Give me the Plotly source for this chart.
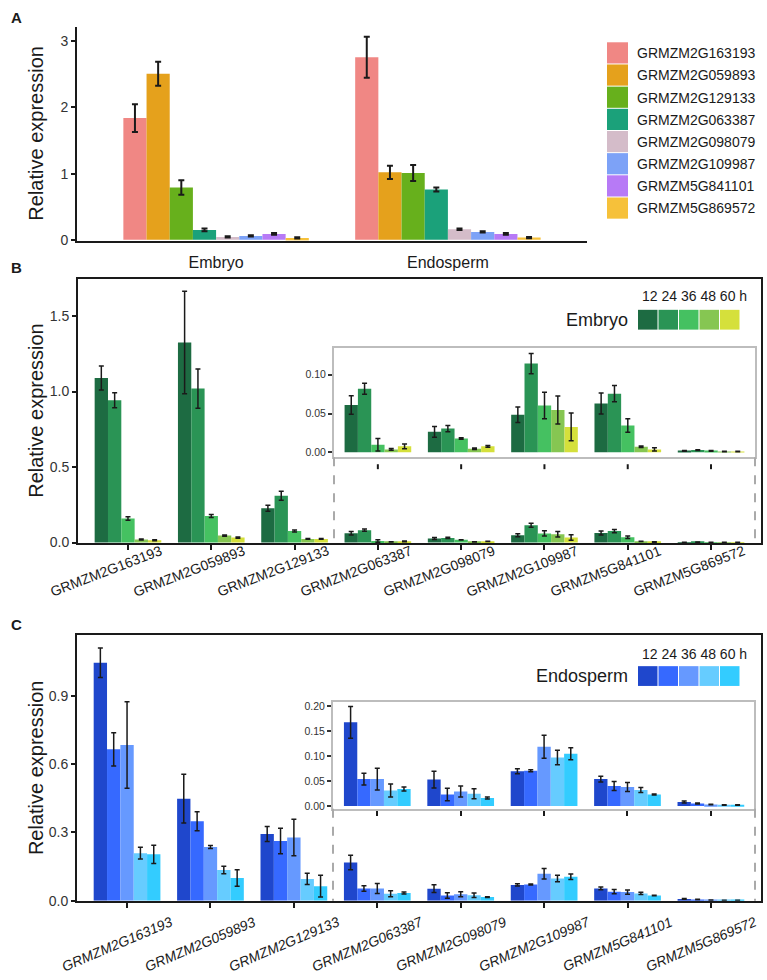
import plotly.graph_objects as go

W, H = 767, 980

# ---------------- data ----------------
genes = ["GRMZM2G163193", "GRMZM2G059893", "GRMZM2G129133", "GRMZM2G063387",
         "GRMZM2G098079", "GRMZM2G109987", "GRMZM5G841101", "GRMZM5G869572"]
tissues = ["Embryo", "Endosperm"]
gene_colors = ["#F08784", "#E5A11C", "#67B01C", "#1BA17A",
               "#D4BCC9", "#7DA2F7", "#B77AF6", "#F6C13A"]

# Panel A: expression per gene in embryo / endosperm
a_embryo = [1.84, 2.51, 0.79, 0.15, 0.045, 0.06, 0.09, 0.03]
a_embryo_err = [0.21, 0.18, 0.11, 0.02, 0.01, 0.008, 0.012, 0.01]
a_endosperm = [2.76, 1.02, 1.01, 0.76, 0.16, 0.12, 0.09, 0.035]
a_endosperm_err = [0.31, 0.10, 0.12, 0.03, 0.01, 0.01, 0.012, 0.01]

times = ["12", "24", "36", "48", "60"]
time_label = "12 24 36 48 60 h"

# Panel B: embryo time course (rows = 12, 24, 36, 48, 60 h; columns = genes)
emb_mean = [
    [1.09, 1.325, 0.227, 0.061, 0.0264, 0.0485, 0.063, 0.002],
    [0.943, 1.02, 0.31, 0.082, 0.0306, 0.1145, 0.0757, 0.003],
    [0.159, 0.176, 0.076, 0.0098, 0.0179, 0.0604, 0.0345, 0.002],
    [0.02, 0.046, 0.024, 0.0038, 0.0047, 0.0545, 0.0072, 0.001],
    [0.015, 0.033, 0.024, 0.0077, 0.0077, 0.0328, 0.0038, 0.001],
]
emb_err = [
    [0.08, 0.34, 0.02, 0.012, 0.007, 0.01, 0.0136, 0.0005],
    [0.05, 0.13, 0.03, 0.007, 0.004, 0.013, 0.0105, 0.0005],
    [0.012, 0.01, 0.007, 0.008, 0.001, 0.017, 0.0087, 0.0005],
    [0.003, 0.004, 0.002, 0.001, 0.001, 0.018, 0.001, 0.0003],
    [0.003, 0.004, 0.002, 0.003, 0.001, 0.018, 0.002, 0.0003],
]
emb_colors = ["#1D6B42", "#2A9455", "#45C161", "#86C652", "#D5E03B"]

# Panel C: endosperm time course
endo_mean = [
    [1.045, 0.448, 0.293, 0.168, 0.053, 0.0696, 0.054, 0.008],
    [0.665, 0.349, 0.262, 0.054, 0.023, 0.071, 0.040, 0.005],
    [0.684, 0.236, 0.278, 0.054, 0.029, 0.119, 0.038, 0.003],
    [0.209, 0.135, 0.096, 0.031, 0.0245, 0.0975, 0.032, 0.002],
    [0.204, 0.100, 0.064, 0.034, 0.016, 0.105, 0.023, 0.002],
]
endo_err = [
    [0.065, 0.107, 0.033, 0.032, 0.017, 0.005, 0.006, 0.002],
    [0.073, 0.042, 0.056, 0.012, 0.0125, 0.002, 0.009, 0.001],
    [0.19, 0.007, 0.08, 0.022, 0.011, 0.023, 0.009, 0.0005],
    [0.026, 0.017, 0.025, 0.013, 0.01, 0.0145, 0.005, 0.0005],
    [0.04, 0.036, 0.048, 0.004, 0.002, 0.012, 0.001, 0.0005],
]
endo_colors = ["#1F47CC", "#3669FF", "#6699FF", "#66CCFF", "#33CCFF"]

inset_start = 3  # genes shown in the zoomed insets

# ---------------- helpers ----------------
FONT = "Liberation Sans, Arial, sans-serif"
DARK = "#1a1a1a"


def px(p):
    return p / W


def py(p):
    return 1 - p / H


def err(arr, th=1.5, w=2.5):
    return dict(type="data", array=arr, visible=True, color=DARK, thickness=th, width=w)


fig = go.Figure()

# Panel A bars
for i, g in enumerate(genes):
    fig.add_trace(go.Bar(
        x=tissues, y=[a_embryo[i], a_endosperm[i]],
        error_y=err([a_embryo_err[i], a_endosperm_err[i]], th=2, w=3),
        marker=dict(color=gene_colors[i], line=dict(width=0)),
        name=g, showlegend=False, xaxis="x", yaxis="y"))

# Panel B and C bars (main + inset)
for mean, errs, cols, xm, ym, xi, yi in [
        (emb_mean, emb_err, emb_colors, "x2", "y2", "x3", "y3"),
        (endo_mean, endo_err, endo_colors, "x4", "y4", "x5", "y5")]:
    for t in range(len(times)):
        fig.add_trace(go.Bar(
            x=genes, y=mean[t], error_y=err(errs[t]),
            marker=dict(color=cols[t], line=dict(width=0)),
            name=times[t] + " h", showlegend=False, xaxis=xm, yaxis=ym))
        fig.add_trace(go.Bar(
            x=genes[inset_start:], y=mean[t][inset_start:],
            error_y=err(errs[t][inset_start:]),
            marker=dict(color=cols[t], line=dict(width=0)),
            name=times[t] + " h", showlegend=False, xaxis=xi, yaxis=yi))

tickfont = dict(family=FONT, size=14, color="#333333")
insetfont = dict(family=FONT, size=10.5, color="#333333")

main_y = dict(showgrid=False, zeroline=False, showline=True, linecolor=DARK, linewidth=2,
              ticks="outside", ticklen=4, tickwidth=1.5, tickcolor=DARK, tickfont=tickfont)
main_x_box = dict(showgrid=False, zeroline=False, showline=True, linecolor=DARK, linewidth=2,
                  mirror=True, ticks="outside", ticklen=5, tickwidth=1.5, tickcolor=DARK,
                  showticklabels=False, categoryorder="array", categoryarray=genes,
                  range=[-0.6, 7.6])
inset_y = dict(showgrid=False, zeroline=False, showline=True, linecolor="#BDBDBD", linewidth=2,
               mirror=True, ticks="outside", ticklen=4, tickwidth=1.5, tickcolor="#333333",
               tickfont=insetfont)
inset_x = dict(showgrid=False, zeroline=False, showline=True, linecolor="#BDBDBD", linewidth=2,
               mirror=True, showticklabels=False, categoryorder="array", categoryarray=genes)

fig.update_layout(
    width=W, height=H, margin=dict(l=0, r=0, t=0, b=0),
    paper_bgcolor="white", plot_bgcolor="white",
    barmode="group", bargap=0.2, bargroupgap=0,
    font=dict(family=FONT, color=DARK),
    showlegend=False,
    # Panel A
    xaxis=dict(domain=[px(77), px(587)], anchor="y", range=[-0.6, 1.6], showgrid=False,
               zeroline=False, showline=True, linecolor=DARK, linewidth=2, ticks="",
               ticklabelstandoff=6, tickfont=dict(family=FONT, size=16, color=DARK)),
    yaxis=dict(domain=[py(241), py(25)], anchor="x", range=[-0.01, 3.22],
               tickvals=[0, 1, 2, 3], **main_y),
    # Panel B
    xaxis2=dict(domain=[px(78), px(761)], anchor="y2", **main_x_box),
    yaxis2=dict(domain=[py(547), py(280)], anchor="x2", range=[-0.006, 1.745], mirror=True,
                tickvals=[0, 0.5, 1.0, 1.5], ticktext=["0.0", "0.5", "1.0", "1.5"], **main_y),
    xaxis3=dict(domain=[px(334), px(755)], anchor="y3", range=[2.473, 7.527], ticks="", **inset_x),
    yaxis3=dict(domain=[py(460), py(350)], anchor="x3", range=[-0.0064, 0.134],
                tickvals=[0, 0.05, 0.10], ticktext=["0.00", "0.05", "0.10"], **inset_y),
    # Panel C
    xaxis4=dict(domain=[px(77), px(761)], anchor="y4", **main_x_box),
    yaxis4=dict(domain=[py(908), py(640)], anchor="x4", range=[0, 1.165], mirror=True,
                tickvals=[0, 0.3, 0.6, 0.9], ticktext=["0.0", "0.3", "0.6", "0.9"], **main_y),
    xaxis5=dict(domain=[px(333), px(754)], anchor="y5", range=[2.469, 7.517], ticks="outside",
                ticklen=5, tickwidth=1.5, tickcolor=DARK, **inset_x),
    yaxis5=dict(domain=[py(815), py(707)], anchor="x5", range=[-0.0054, 0.2093],
                tickvals=[0, 0.05, 0.10, 0.15, 0.20],
                ticktext=["0.00", "0.05", "0.10", "0.15", "0.20"], **inset_y),
)

shapes = []
annotations = []

# dashed connectors from insets down to main x axes
for x_px, y0, y1 in [(334, 460, 547), (755, 460, 547), (333, 815, 908), (755, 815, 908)]:
    shapes.append(dict(type="line", xref="paper", yref="paper", x0=px(x_px), x1=px(x_px),
                       y0=py(y0), y1=py(y1), line=dict(color="#AAAAAA", width=2, dash="dash")))

# detached tick marks under panel B inset (same category positions as main axis)
for i in range(inset_start, len(genes)):
    shapes.append(dict(type="line", xref="x2", yref="paper", x0=i, x1=i,
                       y0=py(467), y1=py(472), layer="above",
                       line=dict(color=DARK, width=2)))

# Panel A legend
for i, g in enumerate(genes):
    top = 40.7 + i * 22.4
    shapes.append(dict(type="rect", xref="paper", yref="paper", x0=px(607), x1=px(628),
                       y0=py(top + 21.4), y1=py(top), fillcolor=gene_colors[i],
                       line=dict(width=0)))
    annotations.append(dict(text=g, xref="paper", yref="paper", x=px(635), y=py(top + 11),
                            xanchor="left", yanchor="middle", showarrow=False,
                            font=dict(family=FONT, size=14, color=DARK)))

# Panel B / C time legends
for title, cols, ytxt, ysq in [("Embryo", emb_colors, 297, 311), ("Endosperm", endo_colors, 659, 671)]:
    for t in range(len(times)):
        x0 = 638 + t * 20.5
        shapes.append(dict(type="rect", xref="paper", yref="paper", x0=px(x0), x1=px(x0 + 19.5),
                           y0=py(ysq + 20), y1=py(ysq), fillcolor=cols[t],
                           line=dict(width=0)))
    annotations.append(dict(text=time_label, xref="paper", yref="paper", x=px(749), y=py(ytxt),
                            xanchor="right", yanchor="middle", showarrow=False,
                            font=dict(family=FONT, size=14, color=DARK)))
    annotations.append(dict(text=title, xref="paper", yref="paper", x=px(630), y=py(ysq + 10),
                            xanchor="right", yanchor="middle", showarrow=False,
                            font=dict(family=FONT, size=18, color=DARK)))

# panel letters
for letter, yy in [("A", 16), ("B", 268), ("C", 629)]:
    annotations.append(dict(text="<b>" + letter + "</b>", xref="paper", yref="paper",
                            x=px(9), y=py(yy), xanchor="left", yanchor="middle",
                            showarrow=False, font=dict(family=FONT, size=15, color=DARK)))

# y axis titles
for yy in [133, 413, 774]:
    annotations.append(dict(text="Relative expression", xref="paper", yref="paper",
                            x=px(36), y=py(yy), xanchor="center", yanchor="middle",
                            textangle=-90, showarrow=False,
                            font=dict(family=FONT, size=20, color=DARK)))

# rotated gene labels under panels B and C
for i, g in enumerate(genes):
    annotations.append(dict(text=g, xref="x2", yref="paper", x=i, xshift=-22, y=py(575),
                            xanchor="center", yanchor="middle", textangle=-21,
                            showarrow=False, font=dict(family=FONT, size=14, color=DARK)))
    annotations.append(dict(text="<i>" + g + "</i>", xref="x4", yref="paper", x=i, xshift=-10,
                            y=py(952), xanchor="center", yanchor="middle", textangle=-23,
                            showarrow=False, font=dict(family=FONT, size=14, color=DARK)))

fig.update_layout(shapes=shapes, annotations=annotations)
fig.write_html(
    "out.html",
    config={"displayModeBar": False},
    post_script="document.body.style.margin='0';document.body.style.padding='0';"
                "document.documentElement.style.overflow='hidden';",
)
